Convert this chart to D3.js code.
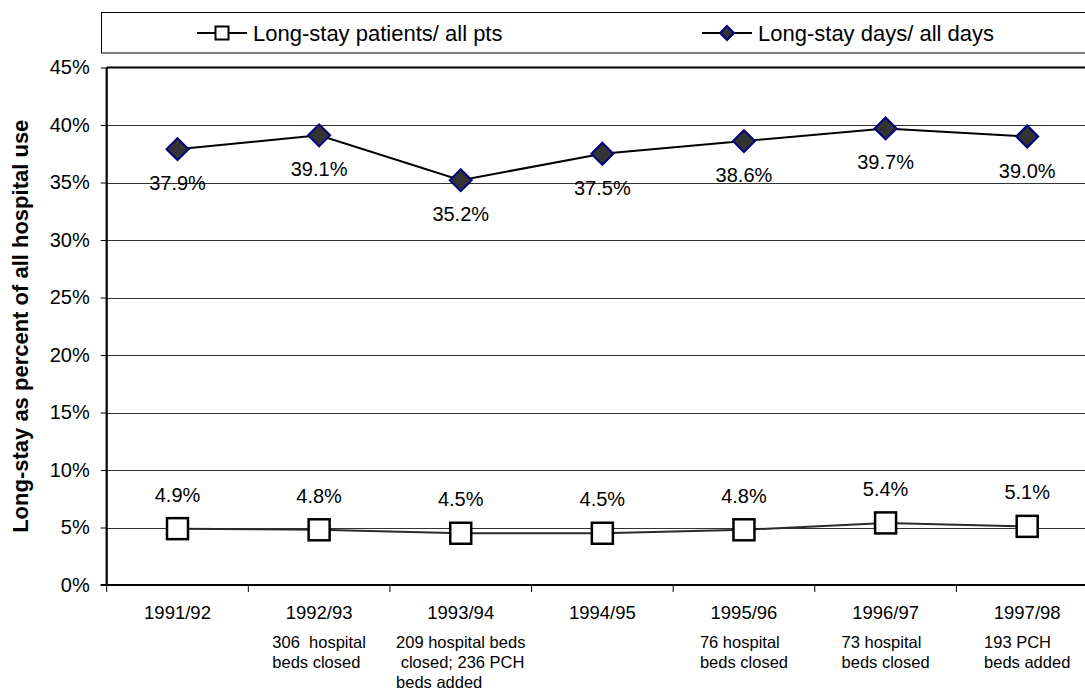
<!DOCTYPE html>
<html>
<head>
<meta charset="utf-8">
<script src="https://cdn.jsdelivr.net/npm/d3@7/dist/d3.min.js"></script>
<style>
  html, body { margin: 0; padding: 0; background: #fff; }
  svg { display: block; font-family: Arial, "Liberation Sans", sans-serif; }
</style>
</head>
<body>
<svg id="chart" width="1085" height="692"></svg>
<script>
// Fiscal years on the x axis
const years = ["1991/92", "1992/93", "1993/94", "1994/95", "1995/96", "1996/97", "1997/98"];

// Long-stay share of all hospital use (percent)
const patientsShare = [4.9, 4.8, 4.5, 4.5, 4.8, 5.4, 5.1];
const daysShare = [37.9, 39.1, 35.2, 37.5, 38.6, 39.7, 39.0];

// Bed changes noted under each year
const bedNotes = [
  [],
  ["306  hospital", "beds closed"],
  ["209 hospital beds", " closed; 236 PCH", "beds added"],
  [],
  ["76 hospital", "beds closed"],
  ["73 hospital", "beds closed"],
  ["193 PCH", "beds added"]
];

const yTicks = [0, 5, 10, 15, 20, 25, 30, 35, 40, 45];

const seriesNames = ["Long-stay patients/ all pts", "Long-stay days/ all days"];
const yTitle = "Long-stay as percent of all hospital use";

const svg = d3.select("#chart");

const plot = { left: 106.7, right: 1098, top: 67.5, bottom: 585 };

const x = d3.scaleBand().domain(years).range([plot.left, plot.right]).padding(0);
const y = d3.scaleLinear().domain([0, 45]).range([plot.bottom, plot.top]);
const cx = d => x(d) + x.bandwidth() / 2;

// Horizontal gridlines
svg.append("g")
  .selectAll("line")
  .data(yTicks.filter(t => t > 0 && t < 45))
  .join("line")
  .attr("x1", plot.left).attr("x2", plot.right)
  .attr("y1", d => Math.round(y(d)) + 0.5).attr("y2", d => Math.round(y(d)) + 0.5)
  .attr("stroke", "#333").attr("stroke-width", 1);

// Top border of the plot area
svg.append("line")
  .attr("x1", plot.left).attr("x2", plot.right)
  .attr("y1", y(45)).attr("y2", y(45))
  .attr("stroke", "#000").attr("stroke-width", 2.2);

// Y axis
const yAxis = svg.append("g")
  .attr("transform", `translate(${plot.left},0)`)
  .call(d3.axisLeft(y).tickValues(yTicks).tickSize(6).tickPadding(11).tickFormat(d => d + "%"));
yAxis.select(".domain").attr("stroke-width", 2.2).attr("d", `M0,${y(45)}V${y(0)}`);
yAxis.selectAll(".tick line").attr("stroke-width", 1);
yAxis.selectAll(".tick text").attr("font-size", 20).attr("fill", "#000")
  .attr("font-family", "Arial, 'Liberation Sans', sans-serif");

// X axis with ticks on the band boundaries
const xAxis = svg.append("g")
  .attr("transform", `translate(0,${plot.bottom})`);
xAxis.append("line")
  .attr("x1", plot.left - 6).attr("x2", plot.right)
  .attr("stroke", "#000").attr("stroke-width", 2.2);
xAxis.selectAll("line.tk")
  .data(years)
  .join("line").attr("class", "tk")
  .attr("x1", d => x(d)).attr("x2", d => x(d))
  .attr("y1", 0).attr("y2", 7)
  .attr("stroke", "#000").attr("stroke-width", 1);
xAxis.selectAll("text.cat")
  .data(years)
  .join("text").attr("class", "cat")
  .attr("x", d => cx(d)).attr("y", 34)
  .attr("text-anchor", "middle")
  .attr("font-size", 18.5)
  .text(d => d);

// Notes under the year labels: left-aligned block centred on the band
years.forEach((yr, i) => {
  const lines = bedNotes[i];
  if (!lines.length) return;
  const g = svg.append("g");
  const texts = g.selectAll("text")
    .data(lines)
    .join("text")
    .attr("y", (d, j) => plot.bottom + 63 + j * 20)
    .attr("font-size", 16.5)
    .attr("xml:space", "preserve")
    .style("white-space", "pre")
    .text(d => d);
  let w = 0;
  texts.each(function () { w = Math.max(w, this.getComputedTextLength()); });
  texts.attr("x", cx(yr) - w / 2);
});

// Y axis title
svg.append("text")
  .attr("transform", `translate(28,${(plot.top + plot.bottom) / 2}) rotate(-90)`)
  .attr("text-anchor", "middle")
  .attr("font-size", 22)
  .attr("font-weight", "bold")
  .text(yTitle);

const lineGen = d3.line().x((d, i) => cx(years[i])).y(d => y(d));

// Long-stay patients series: line + open squares
svg.append("path")
  .datum(patientsShare)
  .attr("d", lineGen)
  .attr("fill", "none").attr("stroke", "#2a2a2a").attr("stroke-width", 2);

const sq = 21;
svg.append("g").selectAll("rect")
  .data(patientsShare)
  .join("rect")
  .attr("x", (d, i) => cx(years[i]) - sq / 2)
  .attr("y", d => y(d) - sq / 2)
  .attr("width", sq).attr("height", sq)
  .attr("fill", "#fff").attr("stroke", "#000").attr("stroke-width", 2.5);

svg.append("g").selectAll("text")
  .data(patientsShare)
  .join("text")
  .attr("x", (d, i) => cx(years[i]))
  .attr("y", d => y(d) - 27)
  .attr("text-anchor", "middle")
  .attr("font-size", 20)
  .text(d => d.toFixed(1) + "%");

// Long-stay days series: line + dark diamonds
svg.append("path")
  .datum(daysShare)
  .attr("d", lineGen)
  .attr("fill", "none").attr("stroke", "#000").attr("stroke-width", 2);

const dia = 11;
const diamondPath = r => `M0,${-r}L${r},0L0,${r}L${-r},0Z`;
svg.append("g").selectAll("path")
  .data(daysShare)
  .join("path")
  .attr("transform", (d, i) => `translate(${cx(years[i])},${y(d)})`)
  .attr("d", diamondPath(dia))
  .attr("fill", "#333").attr("stroke", "#000080").attr("stroke-width", 2);

svg.append("g").selectAll("text")
  .data(daysShare)
  .join("text")
  .attr("x", (d, i) => cx(years[i]))
  .attr("y", d => y(d) + 41)
  .attr("text-anchor", "middle")
  .attr("font-size", 20)
  .text(d => d.toFixed(1) + "%");

// Legend
const legend = svg.append("g");
legend.append("rect")
  .attr("x", 101.5).attr("y", 12.5)
  .attr("width", 1100).attr("height", 40.5)
  .attr("fill", "#fff").attr("stroke", "#000").attr("stroke-width", 1);

const legendItems = [
  { name: seriesNames[0], cx: 222, kind: "square" },
  { name: seriesNames[1], cx: 727, kind: "diamond" }
];
const ly = 33;
legendItems.forEach(it => {
  legend.append("line")
    .attr("x1", it.cx - 25).attr("x2", it.cx + 25)
    .attr("y1", ly).attr("y2", ly)
    .attr("stroke", "#000").attr("stroke-width", 2);
  if (it.kind === "square") {
    legend.append("rect")
      .attr("x", it.cx - 6.5).attr("y", ly - 6.5)
      .attr("width", 13).attr("height", 13)
      .attr("fill", "#fff").attr("stroke", "#000").attr("stroke-width", 2);
  } else {
    legend.append("path")
      .attr("transform", `translate(${it.cx},${ly})`)
      .attr("d", diamondPath(7))
      .attr("fill", "#333").attr("stroke", "#000080").attr("stroke-width", 2);
  }
  legend.append("text")
    .attr("x", it.cx + 31).attr("y", ly + 8)
    .attr("font-size", 22)
    .text(it.name);
});
</script>
</body>
</html>
